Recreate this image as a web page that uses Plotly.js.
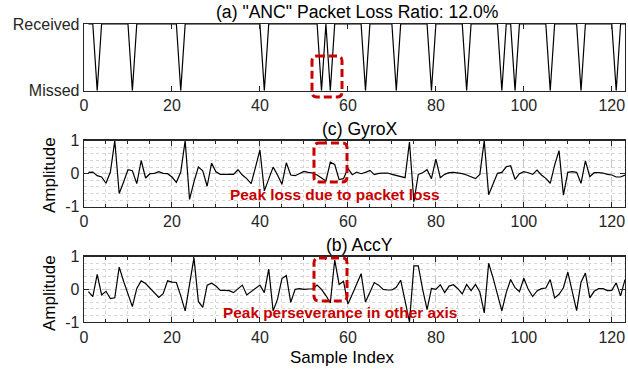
<!DOCTYPE html>
<html>
<head>
<meta charset="utf-8">
<script src="https://cdn.plot.ly/plotly-3.0.1.min.js"></script>
<style>html,body{margin:0;padding:0;background:#fff;}#chart{width:628px;height:369px;}</style>
</head>
<body>
<div id="chart"></div>
<script>
// ---- data (sample index 1..123) ----
const packetStatus = [
  1,1,0,1,1,1,1,1,1,1,
  0,1,1,1,1,1,1,1,1,1,
  1,0,1,1,1,1,1,1,1,1,
  1,1,1,1,1,1,1,1,1,1,
  0,1,1,1,1,1,1,1,1,1,
  1,1,1,0,1,0,1,1,1,1,
  1,1,1,0,1,1,1,1,1,1,
  0,1,1,1,1,1,1,1,0,1,
  1,1,1,1,1,1,0,1,1,1,
  1,1,1,1,0,1,1,0,1,1,
  1,1,1,1,1,0,1,1,1,1,
  1,1,0,1,1,1,1,1,1,1,
  0,1,1
];
const gyroX = [
  0.04, 0.05, -0.06, -0.10, -0.29, 0.05, 1.00, -0.60, -0.25, 0.12,
  0.09, -0.30, 0.40, -0.13, 0.00, 0.01, 0.06, 0.01, 0.00, -0.10,
  -0.26, 0.05, 1.00, -0.78, -0.25, 0.20, 0.09, -0.38, 0.32, 0.06,
  -0.02, -0.02, -0.02, -0.02, 0.12, -0.04, -0.15, -0.30, 0.20, 0.72,
  -0.52, -0.15, 0.20, -0.04, -0.32, 0.33, -0.04, -0.06, 0.00, 0.07,
  0.04, 0.02, -0.04, -0.13, -0.22, 0.35, 0.28, -0.18, -0.15, 0.16,
  -0.03, 0.05, 0.00, 0.04, 0.10, -0.03, 0.01, 0.02, 0.02, -0.02,
  -0.05, -0.08, -0.12, 0.96, -0.85, -0.02, 0.03, 0.12, -0.15, 0.44,
  -0.12, -0.02, 0.03, 0.04, 0.03, 0.00, -0.04, -0.10, -0.15, -0.02,
  1.00, -0.64, -0.32, 0.01, 0.04, 0.21, 0.24, -0.17, 0.00, 0.06,
  0.03, -0.02, 0.11, -0.04, -0.14, -0.29, 0.26, 0.70, -0.65, 0.04,
  0.06, 0.04, -0.29, 0.39, -0.09, 0.03, 0.03, 0.02, -0.02, -0.04,
  -0.10, -0.10, -0.04
];
const accY = [
  -0.07, -0.22, 0.46, -0.17, -0.06, -0.28, -0.26, 0.68, 0.25, -0.15,
  -0.53, 0.03, 0.26, 0.18, 0.04, -0.12, -0.25, -0.13, 0.26, 0.22,
  0.21, -0.20, -0.66, 0.15, 0.97, -0.37, -0.55, 0.13, 0.19, 0.10,
  -0.03, -0.03, -0.04, -0.10, 0.03, 0.13, -0.17, -0.07, 0.03, 0.13,
  -0.10, 0.62, -0.66, -0.30, 0.33, 0.42, -0.40, 0.00, 0.02, 0.00,
  0.01, 0.01, 0.13, 0.00, -0.19, -0.42, 0.90, 0.15, 0.25, -0.45,
  -0.15, 0.17, 0.48, -0.39, -0.10, 0.21, 0.13, 0.00, -0.02, -0.02,
  0.06, 0.28, -0.35, -1.00, 0.72, 0.72, 0.00, -0.62, 0.03, 0.00,
  0.14, -0.10, 0.10, 0.14, 0.02, -0.14, 0.15, -0.04, 0.15, -0.08,
  -0.72, 0.80, 0.35, -0.12, -0.66, -0.10, 0.30, 0.05, -0.07, 0.34,
  0.00, -0.22, -0.05, 0.02, 0.04, 0.30, -0.26, -0.15, 0.05, 0.53,
  -0.05, -0.65, 0.22, 0.50, -0.26, -0.06, 0.02, 0.02, -0.04, -0.03,
  0.20, -0.20, 0.30
];
const sampleIndex = packetStatus.map((_, i) => i + 1);
const xTickVals = [0, 20, 40, 60, 80, 100, 120];
const xTickText = ['0', '20', '40', '60', '80', '100', '120'];
const statusTickVals = [0, 1];
const statusTickText = ['Missed', 'Received'];
const ampTickVals = [-1, 0, 1];
const ampTickText = ['-1', '0', '1'];
const titles = ['(a) "ANC" Packet Loss Ratio: 12.0%', '(c) GyroX', '(b) AccY'];
const notes = ['Peak loss due to packet loss', 'Peak perseverance in other axis'];

// ---- layout helpers ----
const W = 628, H = 369, ML = 84, MR = 3, MT = 24, MB = 47;
const PW = W - ML - MR, PH = H - MT - MB;
const px2x = p => (p - ML) / PW;
const py2y = p => (H - MB - p) / PH;
const AX = '#262626';
const RED = '#C80000';

function roundRect(x0, y0, x1, y1, r) {
  const X = px2x, Y = py2y;
  return 'M' + X(x0 + r) + ',' + Y(y0) +
    ' L' + X(x1 - r) + ',' + Y(y0) +
    ' Q' + X(x1) + ',' + Y(y0) + ' ' + X(x1) + ',' + Y(y0 + r) +
    ' L' + X(x1) + ',' + Y(y1 - r) +
    ' Q' + X(x1) + ',' + Y(y1) + ' ' + X(x1 - r) + ',' + Y(y1) +
    ' L' + X(x0 + r) + ',' + Y(y1) +
    ' Q' + X(x0) + ',' + Y(y1) + ' ' + X(x0) + ',' + Y(y1 - r) +
    ' L' + X(x0) + ',' + Y(y0 + r) +
    ' Q' + X(x0) + ',' + Y(y0) + ' ' + X(x0 + r) + ',' + Y(y0) + ' Z';
}

function xAxis(anchor, grid) {
  const a = {
    anchor: anchor, range: [0, 123], tickmode: 'array', tickvals: xTickVals, ticktext: xTickText,
    ticks: 'inside', ticklen: 5, tickwidth: 1, tickcolor: AX, mirror: 'ticks',
    showline: true, linecolor: AX, linewidth: 1.3, zeroline: false,
    tickfont: {size: 16, color: AX}, showgrid: grid, fixedrange: true
  };
  if (grid) {
    a.gridcolor = '#c8c8c8'; a.griddash = 'dash'; a.gridwidth = 1;
    a.minor = {dtick: 5, tick0: 0, ticks: 'inside', ticklen: 3, tickcolor: AX,
               showgrid: true, gridcolor: '#d6d6d6', griddash: 'dot', gridwidth: 1};
  }
  return a;
}
function ampAxis(domain) {
  return {
    domain: domain, range: [-1, 1], tickmode: 'array', tickvals: ampTickVals, ticktext: ampTickText,
    ticks: 'inside', ticklen: 5, tickcolor: AX, mirror: 'ticks', showline: true, linecolor: AX, linewidth: 1.3,
    zeroline: false, tickfont: {size: 16, color: AX}, showgrid: true, gridcolor: '#c8c8c8', griddash: 'dash',
    minor: {dtick: 0.2, tick0: 0, showgrid: true, gridcolor: '#d6d6d6', griddash: 'dot', gridwidth: 1},
    fixedrange: true
  };
}

const lineStyle = {color: '#000000', width: 1.2};
const traces = [
  {x: sampleIndex, y: packetStatus, xaxis: 'x', yaxis: 'y', mode: 'lines', line: lineStyle, hoverinfo: 'skip'},
  {x: sampleIndex, y: gyroX, xaxis: 'x2', yaxis: 'y2', mode: 'lines', line: lineStyle, hoverinfo: 'skip'},
  {x: sampleIndex, y: accY, xaxis: 'x3', yaxis: 'y3', mode: 'lines', line: lineStyle, hoverinfo: 'skip'}
];

const topDom = [py2y(90.7), 1];
const midDom = [py2y(206.7), py2y(140.7)];
const botDom = [0, py2y(256.7)];

const annFont = {family: 'Liberation Sans, Arial, sans-serif', size: 17, color: '#000'};
const titleFont = {family: 'Liberation Sans, Arial, sans-serif', size: 17.6, color: '#000'};
const layout = {
  width: W, height: H,
  margin: {l: ML, r: MR, t: MT, b: MB, pad: 0},
  paper_bgcolor: '#fff', plot_bgcolor: '#fff',
  font: {family: 'Liberation Sans, Arial, sans-serif', color: AX},
  showlegend: false,
  xaxis: xAxis('y', false),
  xaxis2: xAxis('y2', true),
  xaxis3: xAxis('y3', true),
  yaxis: {domain: topDom, range: [0, 1], tickmode: 'array', tickvals: statusTickVals, ticktext: statusTickText,
          ticks: '', showline: true, mirror: true, linecolor: AX, linewidth: 1.3, zeroline: false,
          showgrid: false, tickfont: {size: 16, color: AX}, fixedrange: true},
  yaxis2: ampAxis(midDom),
  yaxis3: ampAxis(botDom),
  annotations: [
    {text: titles[0], xref: 'paper', yref: 'paper', x: px2x(357), y: py2y(12), xanchor: 'center', yanchor: 'middle', showarrow: false, font: titleFont},
    {text: titles[1], xref: 'paper', yref: 'paper', x: px2x(360), y: py2y(129), xanchor: 'center', yanchor: 'middle', showarrow: false, font: titleFont},
    {text: titles[2], xref: 'paper', yref: 'paper', x: px2x(359), y: py2y(245), xanchor: 'center', yanchor: 'middle', showarrow: false, font: titleFont},
    {text: 'Sample Index', xref: 'paper', yref: 'paper', x: px2x(342), y: py2y(357), xanchor: 'center', yanchor: 'middle', showarrow: false, font: annFont},
    {text: 'Amplitude', xref: 'paper', yref: 'paper', x: px2x(49), y: py2y(175), textangle: -90, xanchor: 'center', yanchor: 'middle', showarrow: false, font: annFont},
    {text: 'Amplitude', xref: 'paper', yref: 'paper', x: px2x(49), y: py2y(293), textangle: -90, xanchor: 'center', yanchor: 'middle', showarrow: false, font: annFont},
    {text: '<b>' + notes[0] + '</b>', xref: 'paper', yref: 'paper', x: px2x(335), y: py2y(194), xanchor: 'center', yanchor: 'middle', showarrow: false,
     font: {family: 'Liberation Sans, Arial, sans-serif', size: 15.4, color: RED}},
    {text: '<b>' + notes[1] + '</b>', xref: 'paper', yref: 'paper', x: px2x(340), y: py2y(312), xanchor: 'center', yanchor: 'middle', showarrow: false,
     font: {family: 'Liberation Sans, Arial, sans-serif', size: 15.4, color: RED}}
  ],
  shapes: [
    {type: 'path', xref: 'paper', yref: 'paper', path: roundRect(312, 56, 342, 97, 5), line: {color: RED, width: 3, dash: '8px,4px'}, layer: 'above'},
    {type: 'path', xref: 'paper', yref: 'paper', path: roundRect(314, 143, 347, 182, 5), line: {color: RED, width: 3, dash: '8px,4px'}, layer: 'above'},
    {type: 'path', xref: 'paper', yref: 'paper', path: roundRect(314, 258, 347, 301, 5), line: {color: RED, width: 3, dash: '8px,4px'}, layer: 'above'}
  ]
};

Plotly.newPlot('chart', traces, layout, {staticPlot: true, displayModeBar: false});
</script>
</body>
</html>
